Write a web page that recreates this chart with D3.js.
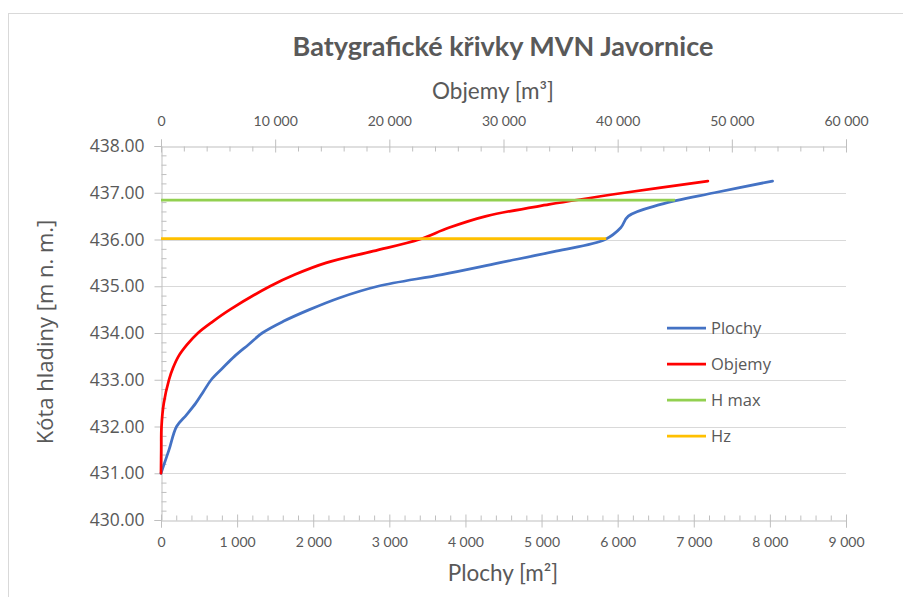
<!DOCTYPE html>
<html>
<head>
<meta charset="utf-8">
<script src="https://cdn.jsdelivr.net/npm/d3@7"></script>
<style>
  html, body { margin: 0; padding: 0; background: #fff; }
  svg { display: block; }
</style>
</head>
<body>
<svg id="chart" width="903" height="597"></svg>
<script>
// ---------------- DATA ----------------
const title = "Batygrafické křivky MVN Javornice";
const topAxisTitle = "Objemy [m³]";
const bottomAxisTitle = "Plochy [m²]";
const leftAxisTitle = "Kóta hladiny [m n. m.]";
const seriesNames = ["Plochy", "Objemy", "H max", "Hz"];
const seriesColors = ["#4472C4", "#FF0000", "#92D050", "#FFC000"];

// Plochy [m2] vs. elevation
const plochyArea = [0, 105, 205, 335, 457, 558, 660, 810, 965, 1148, 1330, 1608, 1950, 2340, 2850, 3690, 4440, 5190, 5835, 6040, 6140, 6565, 7270, 8035];
const plochyElev = [431.0, 431.5, 432.0, 432.25, 432.5, 432.75, 433.0, 433.25, 433.5, 433.75, 434.0, 434.25, 434.5, 434.75, 435.0, 435.25, 435.5, 435.75, 436.0, 436.25, 436.5, 436.75, 437.0, 437.25];

// Objemy [m3] vs. elevation
const objemyVol = [0, 20, 45, 245, 700, 1050, 1530, 2280, 3240, 4560, 6040, 9550, 11730, 14450, 18570, 22600, 25200, 28500, 34000, 40600, 47900];
const objemyElev = [431.0, 431.5, 432.0, 432.5, 433.0, 433.25, 433.5, 433.75, 434.0, 434.25, 434.5, 435.0, 435.25, 435.5, 435.75, 436.0, 436.25, 436.5, 436.75, 437.0, 437.25];

// horizontal levels (drawn on the Plochy axis)
const hmaxX = [0, 6754];
const hmaxElev = [436.84, 436.84];
const hzX = [0, 5850];
const hzElev = [436.02, 436.02];

// axis ticks
const yTicks = [430, 431, 432, 433, 434, 435, 436, 437, 438];
const bottomTicks = [0, 1000, 2000, 3000, 4000, 5000, 6000, 7000, 8000, 9000];
const topTicks = [0, 10000, 20000, 30000, 40000, 50000, 60000];

// ---------------- LAYOUT ----------------
const svg = d3.select("#chart");
const L = 161, R = 846, T = 146, B = 520;
const textColor = "#595959";
const axisColor = "#bfbfbf";
const gridColor = "#d9d9d9";
const calibriLike = "Lato, 'Open Sans', sans-serif";
const segoeLike = "'Open Sans', 'Noto Sans', sans-serif";

const x = d3.scaleLinear().domain([0, 9000]).range([L, R]);
const x2 = d3.scaleLinear().domain([0, 60000]).range([L, R]);
const y = d3.scaleLinear().domain([430, 438]).range([B, T]);

const loc = d3.formatLocale({ decimal: ".", thousands: " ", grouping: [3], currency: ["", ""] });
const fmtThousands = loc.format(",.0f");
const fmtY = d3.format(".2f");

// chart outer border
svg.append("rect").attr("x", 8.5).attr("y", 13.5).attr("width", 1000).attr("height", 1000)
  .attr("fill", "none").attr("stroke", gridColor).attr("stroke-width", 1);

// gridlines
svg.append("g").selectAll("line").data(yTicks.filter(d => d > 430 && d < 438)).join("line")
  .attr("x1", L).attr("x2", R)
  .attr("y1", d => Math.round(y(d)) + 0.5).attr("y2", d => Math.round(y(d)) + 0.5)
  .attr("stroke", gridColor).attr("stroke-width", 1);

// ---- left axis ----
const gLeft = svg.append("g").attr("transform", `translate(${L + 0.5},0)`);
gLeft.call(d3.axisLeft(y).tickValues(yTicks).tickSize(7).tickPadding(10).tickFormat(fmtY));
gLeft.select(".domain").attr("stroke", axisColor);
gLeft.selectAll(".tick line").attr("stroke", axisColor);
gLeft.selectAll(".tick text").attr("fill", textColor).attr("font-family", segoeLike).attr("font-size", 17.5);
const gLeftMinor = svg.append("g").attr("transform", `translate(${L + 0.5},0)`);
gLeftMinor.call(d3.axisRight(y).tickValues(d3.range(430, 438.001, 0.2).filter(v => Math.abs(v - Math.round(v)) > 0.01)).tickSize(5).tickFormat(""));
gLeftMinor.select(".domain").remove();
gLeftMinor.selectAll(".tick line").attr("stroke", axisColor);

// ---- bottom axis ----
const gBottom = svg.append("g").attr("transform", `translate(0,${B + 0.5})`);
gBottom.call(d3.axisBottom(x).tickValues(bottomTicks).tickSize(7).tickPadding(10).tickFormat(fmtThousands));
gBottom.select(".domain").attr("stroke", axisColor);
gBottom.selectAll(".tick line").attr("stroke", axisColor).attr("y1", -6);
gBottom.selectAll(".tick text").attr("fill", textColor).attr("font-family", calibriLike).attr("font-size", 14);
const gBottomMinor = svg.append("g").attr("transform", `translate(0,${B + 0.5})`);
gBottomMinor.call(d3.axisTop(x).tickValues(d3.range(0, 9001, 200).filter(v => v % 1000 !== 0)).tickSize(5).tickFormat(""));
gBottomMinor.select(".domain").remove();
gBottomMinor.selectAll(".tick line").attr("stroke", axisColor);

// ---- top axis ----
const gTop = svg.append("g").attr("transform", `translate(0,${T + 0.5})`);
gTop.call(d3.axisTop(x2).tickValues(topTicks).tickSize(7).tickPadding(14).tickFormat(fmtThousands));
gTop.select(".domain").attr("stroke", axisColor);
gTop.selectAll(".tick line").attr("stroke", axisColor).attr("y1", 6);
gTop.selectAll(".tick text").attr("fill", textColor).attr("font-family", calibriLike).attr("font-size", 14);
const gTopMinor = svg.append("g").attr("transform", `translate(0,${T + 0.5})`);
gTopMinor.call(d3.axisBottom(x2).tickValues(d3.range(0, 60001, 2000).filter(v => v % 10000 !== 0)).tickSize(5).tickFormat(""));
gTopMinor.select(".domain").remove();
gTopMinor.selectAll(".tick line").attr("stroke", axisColor);

// ---------------- SERIES ----------------
const curve = d3.curveCatmullRom.alpha(0.5);
const plochyPts = plochyArea.map((a, i) => [x(a), y(plochyElev[i])]);
const objemyPts = objemyVol.map((v, i) => [x2(v), y(objemyElev[i])]);
const hmaxPts = hmaxX.map((a, i) => [x(a), y(hmaxElev[i])]);
const hzPts = hzX.map((a, i) => [x(a), y(hzElev[i])]);
const lineGen = d3.line().curve(curve);
const straight = d3.line();

const gSeries = svg.append("g").attr("fill", "none").attr("stroke-width", 2.75).attr("stroke-linecap", "round").attr("stroke-linejoin", "round");
gSeries.append("path").attr("d", lineGen(plochyPts)).attr("stroke", seriesColors[0]);
gSeries.append("path").attr("d", lineGen(objemyPts)).attr("stroke", seriesColors[1]);
gSeries.append("path").attr("d", straight(hmaxPts)).attr("stroke", seriesColors[2]).attr("stroke-linecap", "butt");
gSeries.append("path").attr("d", straight(hzPts)).attr("stroke", seriesColors[3]).attr("stroke-linecap", "butt");

// ---------------- LEGEND ----------------
const legendY = [328, 364, 400, 436];
const gLegend = svg.append("g");
seriesNames.forEach((name, i) => {
  gLegend.append("line").attr("x1", 667).attr("x2", 706).attr("y1", legendY[i]).attr("y2", legendY[i])
    .attr("stroke", seriesColors[i]).attr("stroke-width", 2.75);
  gLegend.append("text").attr("x", 711).attr("y", legendY[i]).attr("dy", "0.35em")
    .attr("fill", textColor).attr("font-family", segoeLike).attr("font-size", 16.5).text(name);
});

// ---------------- TITLES ----------------
svg.append("text").attr("x", 503).attr("y", 56).attr("text-anchor", "middle")
  .attr("font-family", calibriLike).attr("font-weight", "bold").attr("font-size", 27)
  .attr("fill", textColor).text(title);
svg.append("text").attr("x", 493).attr("y", 99).attr("text-anchor", "middle")
  .attr("font-family", calibriLike).attr("font-size", 22.5)
  .attr("fill", textColor).text(topAxisTitle);
svg.append("text").attr("x", 503).attr("y", 581).attr("text-anchor", "middle")
  .attr("font-family", calibriLike).attr("font-size", 22.5)
  .attr("fill", textColor).text(bottomAxisTitle);
svg.append("text").attr("transform", "translate(53,332) rotate(-90)").attr("text-anchor", "middle")
  .attr("font-family", segoeLike).attr("font-size", 22)
  .attr("fill", textColor).text(leftAxisTitle);
</script>
</body>
</html>
